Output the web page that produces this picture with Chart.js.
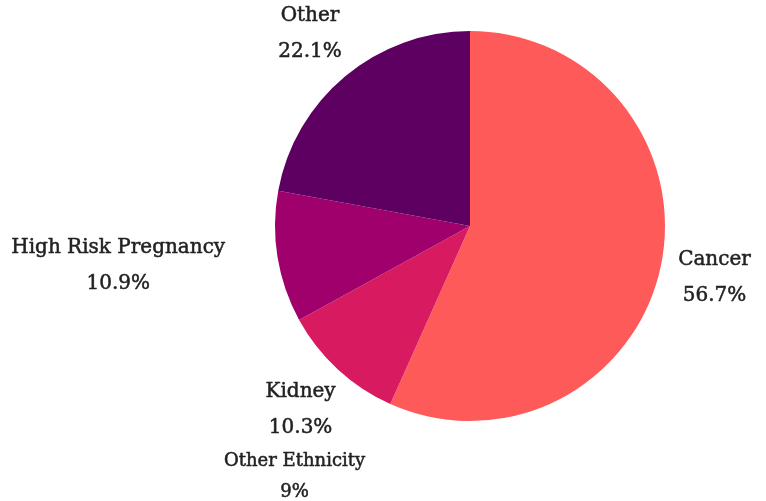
<!DOCTYPE html>
<html>
<head>
<meta charset="utf-8">
<script src="https://cdn.jsdelivr.net/npm/chart.js@4"></script>
<style>
  html, body { margin: 0; padding: 0; background: #ffffff; }
  #wrap { width: 766px; height: 501px; }
</style>
</head>
<body>
<div id="wrap"><canvas id="pieChart" width="766" height="501"></canvas></div>
<script>
// data
const categories = ["Cancer", "Kidney", "High Risk Pregnancy", "Other"];
const shares = [56.7, 10.3, 10.9, 22.1];
const sliceColors = ["#ff5a5a", "#d81b60", "#a0006b", "#5e0062"];

// extra note printed under the Kidney label
const noteLabel = "Other Ethnicity";
const noteShare = 9;

// horizontal nudge for labels that would hit the pie
const labelNudgeX = [0, 0, -105, 0];

const labelFont = "20px 'DejaVu Serif', serif";
const noteFont = "18px 'DejaVu Serif', serif";
const textColor = "#222222";

const outsideLabels = {
    id: "outsideLabels",
    afterDraw(chart) {
        const ctx = chart.ctx;
        const meta = chart.getDatasetMeta(0);
        ctx.save();
        ctx.fillStyle = textColor;
        ctx.strokeStyle = textColor;
        ctx.lineWidth = 0.5;
        ctx.textAlign = "center";
        ctx.textBaseline = "middle";
        const put = (txt, x, y) => {
            ctx.fillText(txt, x, y);
            ctx.strokeText(txt, x, y);
        };
        meta.data.forEach((arc, i) => {
            const p = arc.getProps(["x", "y", "startAngle", "endAngle", "outerRadius"], true);
            const mid = (p.startAngle + p.endAngle) / 2;
            const d = p.outerRadius + 55;
            const lx = p.x + d * Math.cos(mid) + labelNudgeX[i];
            const ly = p.y + d * Math.sin(mid);
            ctx.font = labelFont;
            put(categories[i], lx, ly - 18);
            put(shares[i] + "%", lx, ly + 18);
            if (categories[i] === "Kidney") {
                ctx.font = noteFont;
                put(noteLabel, lx - 6, ly + 51);
                put(noteShare + "%", lx - 6, ly + 82);
            }
        });
        ctx.restore();
    }
};

const ctx = document.getElementById("pieChart").getContext("2d");

const pieChart = new Chart(ctx, {
    type: "pie",
    data: {
        labels: categories,
        datasets: [{
            data: shares,
            backgroundColor: sliceColors,
            borderWidth: 0,
        }],
    },
    options: {
        responsive: false,
        animation: false,
        layout: {
            padding: { top: 31, bottom: 80, left: 275, right: 101 },
        },
        plugins: {
            legend: { display: false },
            tooltip: { enabled: false },
        },
    },
    plugins: [outsideLabels],
});
</script>
</body>
</html>
